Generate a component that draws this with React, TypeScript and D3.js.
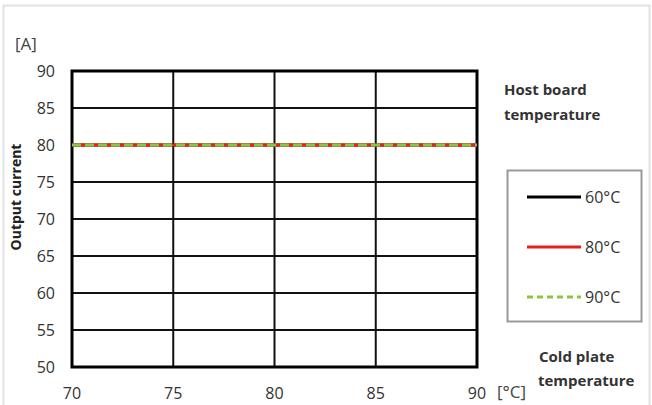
import React from "react";
import * as d3 from "d3";

const xTicks = [70, 75, 80, 85, 90];
const yTicks = [50, 55, 60, 65, 70, 75, 80, 85, 90];
const temps = [70, 75, 80, 85, 90];
const series60 = [80, 80, 80, 80, 80];
const series80 = [80, 80, 80, 80, 80];
const series90 = [80, 80, 80, 80, 80];
const seriesNames = ["60°C", "80°C", "90°C"];

const W = 652;
const H = 405;

export default function App() {
  const x = d3.scaleLinear().domain([70, 90]).range([72, 477]);
  const y = d3.scaleLinear().domain([50, 90]).range([367, 71]);
  const line = d3
    .line<number>()
    .x((_, i) => x(temps[i]))
    .y((d) => y(d));

  const series = [
    { name: seriesNames[0], values: series60, color: "#000000", dash: undefined, w: 3 },
    { name: seriesNames[1], values: series80, color: "#e8201c", dash: undefined, w: 3 },
    { name: seriesNames[2], values: series90, color: "#8cc63f", dash: "9,4", w: 3 },
  ];

  const tickFont = "'Open Sans', 'Liberation Sans', sans-serif";
  const boldFont = "'Open Sans', 'Noto Sans', sans-serif";

  return (
    <svg
      width={W}
      height={H}
      style={{ position: "absolute", left: 0, top: 0, background: "#fff" }}
    >
      <rect x={3.5} y={5.5} width={646} height={410} fill="none" stroke="#e2e2e2" strokeWidth={2} />
      <text x={15} y={50} fontFamily={tickFont} fontSize={17} fill="#444">[A]</text>
      {yTicks.map((t) => (
        <g key={"y" + t}>
          <line x1={x(70)} x2={x(90)} y1={y(t)} y2={y(t)} stroke="#111" strokeWidth={2} />
          <text x={55} y={y(t) + 6} textAnchor="end" fontFamily={tickFont} fontSize={16} fill="#333">{t}</text>
        </g>
      ))}
      {xTicks.map((t) => (
        <g key={"x" + t}>
          <line x1={x(t)} x2={x(t)} y1={y(50)} y2={y(90)} stroke="#111" strokeWidth={2} />
          <text x={x(t)} y={399} textAnchor="middle" fontFamily={tickFont} fontSize={16} fill="#333">{t}</text>
        </g>
      ))}
      <rect x={x(70)} y={y(90)} width={x(90) - x(70)} height={y(50) - y(90)} fill="none" stroke="#000" strokeWidth={3} />
      {series.map((s) => (
        <path key={s.name} d={line(s.values) || ""} fill="none" stroke={s.color} strokeWidth={s.w} strokeDasharray={s.dash} />
      ))}
      <text x={497} y={398} fontFamily={tickFont} fontSize={17} fill="#444">[°C]</text>
      <text transform="translate(21,197) rotate(-90)" textAnchor="middle" fontFamily={boldFont} fontWeight="bold" fontSize={14} fill="#222">Output current</text>
      <text x={504} y={95} fontFamily={boldFont} fontWeight="bold" fontSize={15} fill="#333">Host board</text>
      <text x={504} y={120} fontFamily={boldFont} fontWeight="bold" fontSize={15} fill="#333">temperature</text>
      <text x={539} y={362} fontFamily={boldFont} fontWeight="bold" fontSize={15} fill="#333">Cold plate</text>
      <text x={538} y={386} fontFamily={boldFont} fontWeight="bold" fontSize={15} fill="#333">temperature</text>
      <rect x={507.5} y={170.5} width={134} height={151} fill="#fff" stroke="#999" strokeWidth={2} />
      {series.map((s, i) => (
        <g key={"lg" + s.name}>
          <line x1={527} x2={581} y1={197 + i * 50} y2={197 + i * 50} stroke={s.color} strokeWidth={3} strokeDasharray={s.dash ? "6,4" : undefined} />
          <text x={585} y={203 + i * 50} fontFamily={tickFont} fontSize={16} fill="#333">{s.name}</text>
        </g>
      ))}
    </svg>
  );
}
